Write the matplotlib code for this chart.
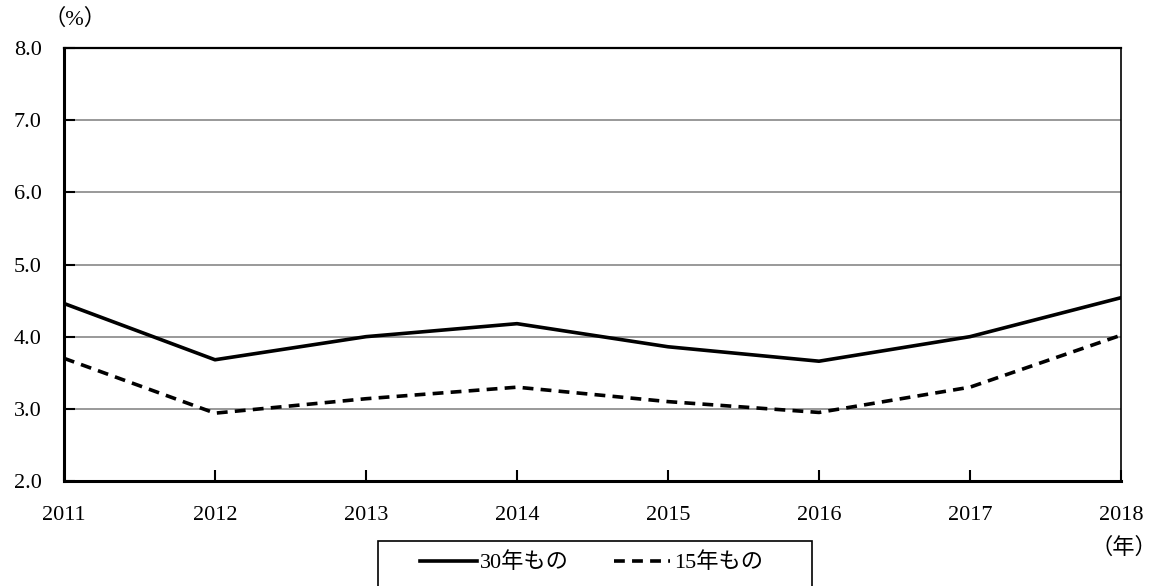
import matplotlib
matplotlib.use('Agg')
import matplotlib.pyplot as plt
from matplotlib.patches import Rectangle
from matplotlib.ticker import MultipleLocator, FormatStrFormatter

plt.rcParams['font.family'] = ['Liberation Serif', 'Noto Sans CJK JP']

years = [2011, 2012, 2013, 2014, 2015, 2016, 2017, 2018]
yr30 = [4.46, 3.68, 4.00, 4.18, 3.86, 3.66, 4.00, 4.54]
yr15 = [3.70, 2.94, 3.14, 3.30, 3.10, 2.95, 3.30, 4.02]
labels = ['30年もの', '15年もの']

fig = plt.figure(figsize=(11.58, 5.86), dpi=100)
ax = fig.add_axes([64/1158, 1-481/586, (1121-64)/1158, (481-48)/586])

ax.plot(years, yr30, color='black', linestyle='-', linewidth=2.6, label=labels[0])
ax.plot(years, yr15, color='black', linestyle=(0, (3, 2)), linewidth=2.6, label=labels[1])

ax.set_xlim(2011, 2018)
ax.set_ylim(2.0, 8.0)
ax.yaxis.set_major_locator(MultipleLocator(1.0))
ax.yaxis.set_major_formatter(FormatStrFormatter('%.1f'))
ax.set_xticks(years)
ax.grid(axis='y', color='#888888', linewidth=1.2)
ax.set_axisbelow(True)

for s in ['left', 'bottom']:
    ax.spines[s].set_linewidth(2.2)
ax.spines['top'].set_linewidth(1.6)
ax.spines['right'].set_linewidth(1.2)
ax.tick_params(axis='both', direction='in', length=8, width=1.5, labelsize=16)
ax.tick_params(axis='y', pad=16)
ax.tick_params(axis='x', pad=18)

fig.text(75/1158, 1-19/586, '（%）', ha='center', va='center', fontsize=16)
fig.text(1157/1158, 1-548/586, '（年）', ha='right', va='center', fontsize=16)

# legend box runs off the bottom edge like in the source
fig.patches.append(Rectangle((378/1158, 1-600/586), 434/1158, 59/586,
                             transform=fig.transFigure, fill=False,
                             edgecolor='black', linewidth=1.2))
leg = fig.legend(loc='center left', bbox_to_anchor=(420/1158, 1-563/586), ncol=2,
                 frameon=False, fontsize=16, handlelength=2.56,
                 handletextpad=0.15, columnspacing=2.0, borderpad=0,
                 borderaxespad=0)

fig.savefig('out.png', dpi=100)
